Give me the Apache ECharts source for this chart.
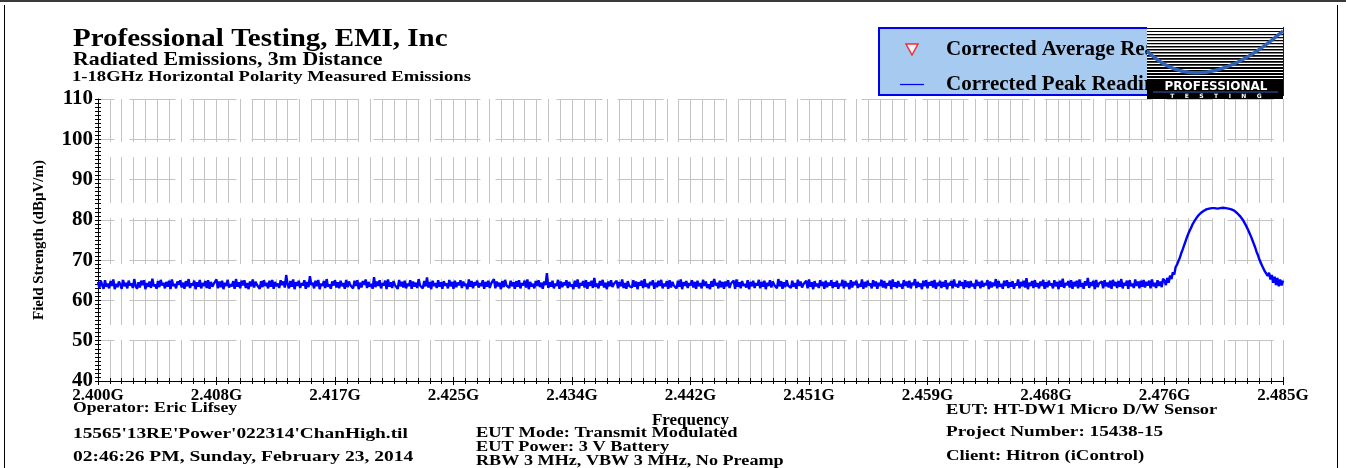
<!DOCTYPE html>
<html>
<head>
<meta charset="utf-8">
<title>Radiated Emissions 2.400-2.485 GHz</title>
<script src="https://cdn.jsdelivr.net/npm/echarts@6/dist/echarts.min.js"></script>
<style>
  html, body { margin: 0; padding: 0; background: #fff; }
  #main { width: 1346px; height: 468px; }
</style>
</head>
<body>
<div id="main"></div>
<script>
// x is MHz above 2.400 GHz, one reading every 0.1 MHz (0 .. 85), 25 readings per row
const sweepStepMHz = 0.1
const peakReading = [
  64.6,63.1,64.9,63.8,62.9,65.0,63.4,64.2,63.0,64.8,63.6,65.2,62.8,64.1,63.3,64.7,63.9,62.9,65.1,63.5,64.4,63.0,64.9,63.7,64.2,
  63.1,65.3,63.6,62.9,64.5,63.2,64.9,63.8,65.0,62.8,64.3,63.4,64.7,63.1,65.4,63.5,64.0,62.9,64.8,63.3,65.1,63.7,64.4,63.0,64.6,
  63.4,64.9,62.8,65.2,63.6,64.1,63.0,64.7,63.9,65.0,63.2,64.4,62.9,64.8,63.5,65.3,63.1,64.2,63.7,64.9,62.8,64.5,63.4,65.1,63.0,
  64.3,63.6,64.8,63.1,65.0,62.9,64.6,63.4,64.1,63.8,65.2,63.0,64.7,63.3,64.9,62.8,64.4,63.6,65.1,63.2,64.0,63.5,64.8,62.9,65.3,
  63.4,64.5,63.0,64.9,63.7,65.0,63.1,64.3,62.8,64.7,63.5,65.2,63.2,64.6,63.9,64.1,62.9,64.8,63.3,65.0,63.6,64.4,63.0,64.9,63.4,
  65.1,62.9,64.6,63.5,64.2,63.1,65.0,63.8,64.7,63.2,66.3,64.0,63.0,64.8,63.4,65.2,62.8,64.5,63.6,64.9,63.1,64.3,63.7,65.0,62.9,
  64.6,63.3,66.0,63.8,64.4,63.0,64.9,63.5,65.1,62.8,64.2,63.6,64.8,63.1,65.3,63.4,64.0,62.9,64.7,63.7,65.0,63.2,64.5,63.0,64.9,
  63.5,64.3,62.9,65.1,63.3,64.7,63.8,64.2,63.0,64.9,63.6,65.0,62.8,64.4,63.2,64.8,63.9,65.2,63.1,64.6,63.4,64.1,62.9,65.8,63.3,
  64.7,63.6,65.0,63.0,64.3,63.7,64.9,62.8,65.2,63.4,64.5,63.1,64.8,63.8,64.0,62.9,65.1,63.5,64.6,63.2,64.9,63.0,64.2,63.6,65.0,
  62.9,64.7,63.4,64.4,63.1,65.3,63.7,64.0,63.0,64.8,63.5,65.7,63.2,64.6,62.8,64.9,63.6,64.3,63.1,65.0,63.4,64.5,62.9,64.8,63.7,
  64.2,63.0,65.1,63.5,64.6,62.9,64.9,63.3,64.4,63.8,65.0,63.1,64.7,63.6,64.1,62.8,65.2,63.4,64.8,63.0,64.5,63.7,64.9,63.2,64.3,
  63.6,65.0,62.9,64.6,63.4,64.9,63.1,64.2,63.8,65.3,63.0,64.7,63.5,64.4,62.8,64.8,63.3,65.1,63.7,64.0,63.1,64.9,63.5,64.5,62.9,
  64.8,63.4,65.0,63.0,64.3,63.7,64.9,63.2,65.2,62.8,64.6,63.5,64.1,63.0,64.8,63.6,65.0,63.3,64.4,62.9,64.7,63.8,66.8,63.1,64.5,
  63.4,64.9,63.0,64.2,63.6,65.1,62.9,64.7,63.3,64.4,63.8,65.0,63.1,64.6,63.5,64.0,62.8,64.9,63.4,65.2,63.0,64.3,63.7,64.8,63.2,
  65.0,62.9,64.5,63.6,64.9,63.1,65.6,63.4,64.2,63.0,64.8,63.7,65.1,63.2,64.4,62.8,64.7,63.5,65.0,63.3,64.1,63.9,64.9,63.0,64.6,
  63.5,65.2,63.1,64.3,62.9,64.8,63.6,64.0,63.2,65.0,63.4,64.7,62.8,64.5,63.7,64.9,63.1,65.3,63.4,64.2,63.0,64.6,63.8,65.0,62.9,
  64.4,63.3,64.9,63.6,65.1,63.0,64.2,63.5,64.8,62.9,65.0,63.2,64.6,63.7,64.1,63.0,64.9,63.4,65.2,62.8,64.5,63.6,64.8,63.1,64.3,
  63.7,65.0,63.2,64.6,62.9,64.9,63.5,64.3,63.0,65.1,63.6,64.7,63.1,64.0,62.8,64.8,63.4,65.3,63.7,64.4,63.0,64.9,63.3,64.6,62.9,
  64.7,63.5,65.0,63.1,64.2,63.8,64.9,62.9,65.2,63.4,64.5,63.0,64.8,63.6,64.1,63.2,65.0,62.8,64.6,63.5,64.9,63.1,64.3,63.7,65.1,
  63.0,64.6,63.4,64.9,62.8,64.4,63.6,65.0,63.2,64.7,63.9,64.2,63.0,65.3,63.5,64.8,62.9,64.5,63.3,65.0,63.7,64.1,63.1,64.9,63.4,
  64.3,62.9,65.1,63.6,64.7,63.2,64.0,63.8,64.9,63.0,65.2,63.4,64.5,62.8,64.8,63.5,64.2,63.1,65.0,63.6,64.6,62.9,64.9,63.3,64.4,
  63.7,65.0,63.1,64.5,63.4,64.9,62.9,64.2,63.6,65.1,63.0,64.8,63.5,64.3,62.8,65.0,63.2,64.6,63.8,64.9,63.1,64.1,63.4,65.2,62.9,
  64.6,63.3,64.9,63.7,64.2,63.0,65.0,63.5,64.7,62.9,64.4,63.6,65.1,63.2,64.8,63.0,64.3,63.7,64.9,62.8,65.2,63.4,64.5,63.1,64.8,
  63.5,64.1,62.9,65.0,63.6,64.7,63.2,64.9,63.0,64.4,63.8,65.3,63.1,64.6,63.4,64.2,62.8,64.9,63.5,65.0,63.0,64.5,63.7,64.8,63.2,
  65.1,62.9,64.4,63.6,64.9,63.1,64.6,63.4,65.0,62.8,64.3,63.7,64.8,63.0,65.2,63.5,64.1,63.2,64.9,63.6,64.5,62.9,65.0,63.3,64.7,
  63.1,64.8,63.5,64.2,62.9,65.1,63.6,64.6,63.0,64.9,63.4,64.3,63.8,65.0,62.8,64.7,63.2,64.4,63.6,65.3,63.0,64.8,63.4,64.1,62.9,
  64.9,63.6,65.0,63.1,64.5,63.4,64.8,62.9,64.2,63.7,65.2,63.0,64.6,63.5,64.9,63.2,65.5,62.8,64.4,63.6,64.8,63.1,65.0,63.4,64.3,
  63.0,64.7,63.6,65.1,62.9,64.5,63.3,64.9,63.7,64.2,63.0,65.0,63.5,64.6,62.8,64.9,63.4,65.4,63.1,64.3,63.8,64.8,63.2,65.0,62.9,
  64.6,63.5,64.9,63.0,65.2,63.4,64.3,62.9,64.8,63.7,65.6,63.1,64.5,63.6,64.9,62.8,65.1,63.3,64.2,63.8,64.7,63.0,65.0,63.5,64.4,
  63.2,64.9,62.9,65.1,63.6,64.6,63.1,64.8,63.4,65.3,63.0,64.4,63.7,64.9,62.9,65.0,63.5,64.2,63.1,65.2,63.6,64.7,63.0,64.9,63.4,
  65.1,63.2,64.6,63.7,64.9,63.0,65.2,63.5,64.4,63.1,65.0,63.6,64.7,63.3,65.4,
  // channel edge and carrier (76.5 .. 85.0)
  64.9,63.8,65.6,64.4,66.2,65.3,67.0,66.4,68.3,68.9,69.8,70.6,71.7,72.6,73.6,74.6,75.6,76.5,77.3,78.0,
  78.8,79.4,80.0,80.5,81.0,81.4,81.7,82.0,82.2,82.4,82.6,82.7,82.8,82.9,82.9,83.0,82.9,82.8,82.8,82.9,
  82.9,83.0,83.0,83.0,82.9,82.9,82.8,82.7,82.6,82.5,82.3,82.0,81.7,81.4,81.0,80.6,80.1,79.5,78.9,78.2,
  77.5,76.7,75.9,75.0,74.1,73.2,72.1,71.3,70.2,69.8,68.6,68.4,67.2,67.6,66.1,66.9,65.2,66.3,64.4,65.9,
  63.8,65.6,63.5,65.2,63.7,64.9
]
const averageReading = []
const xTickLabels = ['2.400G','2.408G','2.417G','2.425G','2.434G','2.442G','2.451G','2.459G','2.468G','2.476G','2.485G']
const yMin = 40
const yMax = 110
const yStep = 10

const serif = '"Liberation Serif", "Times New Roman", serif'
const gridColor = '#c4c4c4'

const chart = echarts.init(document.getElementById('main'))

// the original report prints its text stretched, so widen it a little
function txt(x, y, s, size, stretch) {
  return {
    type: 'text', z: 50, x: x, y: y, scaleX: stretch || 1,
    style: {
      text: s, x: 0, y: 0,
      font: 'bold ' + size + 'px ' + serif,
      fill: '#000',
      align: 'left', textAlign: 'left',
      verticalAlign: 'middle', textVerticalAlign: 'middle'
    }
  }
}

// company logo in the corner of the legend box
function logo() {
  const els = [
    { type: 'rect', z: 100, shape: { x: 1147, y: 27, width: 136, height: 72 }, style: { fill: '#fff' } }
  ]
  for (let i = 0; i < 18; i++) {
    els.push({ type: 'rect', z: 101, shape: { x: 1147, y: 28 + i * 3, width: 136, height: 1 + i * 0.07 }, style: { fill: '#000' } })
  }
  els.push(
    { type: 'bezierCurve', z: 102, shape: { x1: 1147, y1: 51, cpx1: 1200, cpy1: 103, x2: 1283, y2: 31 }, style: { stroke: '#2f62b5', lineWidth: 3.5, fill: null } },
    { type: 'rect', z: 103, shape: { x: 1147, y: 80, width: 136, height: 19 }, style: { fill: '#000' } },
    { type: 'text', z: 104, style: { text: 'PROFESSIONAL', x: 1216, y: 87, font: 'bold 12px "DejaVu Sans"', fill: '#fff', align: 'center', textAlign: 'center', verticalAlign: 'middle', textVerticalAlign: 'middle' } },
    { type: 'line', z: 104, shape: { x1: 1153, y1: 92, x2: 1278, y2: 92 }, style: { stroke: '#2f62b5', lineWidth: 1 } },
    { type: 'text', z: 104, style: { text: 'T     E     S     T     I     N     G', x: 1216, y: 96, font: 'bold 6px "DejaVu Sans"', fill: '#fff', align: 'center', textAlign: 'center', verticalAlign: 'middle', textVerticalAlign: 'middle' } }
  )
  return els
}

const peakData = peakReading.map((v, i) => [i * sweepStepMHz, v])

const option = {
  animation: false,
  backgroundColor: '#fff',
  grid: { left: 98, right: 63, top: 99, bottom: 87 },
  legend: {
    orient: 'vertical',
    left: 900, top: 39,
    padding: 0,
    itemWidth: 24, itemHeight: 11, itemGap: 14,
    data: [
      { name: 'Corrected Average Reading', icon: 'path://M0,0L12,0L6,11Z',
        itemStyle: { color: '#fff', borderColor: '#ff0000', borderWidth: 1.5 } },
      { name: 'Corrected Peak Reading', icon: 'path://M0,0L24,0L24,1.2L0,1.2Z',
        itemStyle: { color: '#0000ff' } }
    ],
    textStyle: { fontFamily: serif, fontWeight: 'bold', fontSize: 21, lineHeight: 20, color: '#000', padding: [0, 0, 0, 17] }
  },
  xAxis: [
    {
      type: 'value', min: 0, max: 85, interval: 8.5,
      name: 'Frequency', nameLocation: 'middle', nameGap: 31,
      nameTextStyle: { fontFamily: serif, fontWeight: 'bold', fontSize: 17, color: '#000' },
      axisLine: { show: true, onZero: false, lineStyle: { color: '#000', width: 1 } },
      axisTick: { show: true, length: 4, lineStyle: { color: '#000' } },
      minorTick: { show: true, splitNumber: 10, length: 3, lineStyle: { color: '#000' } },
      axisLabel: {
        margin: 6, color: '#000', fontFamily: serif, fontWeight: 'bold', fontSize: 17,
        formatter: v => xTickLabels[Math.round(v / 8.5)]
      },
      splitLine: { show: true, lineStyle: { color: gridColor, width: 1, type: [46, 15], dashOffset: 3 } },
      minorSplitLine: { show: true, lineStyle: { color: gridColor, width: 1, type: [46, 15], dashOffset: 3 } }
    },
    {
      // second copy only for the inward half of the ticks
      type: 'value', min: 0, max: 85, interval: 8.5, position: 'bottom',
      axisLine: { show: false, onZero: false },
      axisTick: { show: true, inside: true, length: 4, lineStyle: { color: '#000' } },
      minorTick: { show: true, splitNumber: 10, length: 3, lineStyle: { color: '#000' } },
      axisLabel: { show: false },
      splitLine: { show: false }
    }
  ],
  yAxis: [
    {
      type: 'value', min: yMin, max: yMax, interval: yStep,
      name: 'Field Strength (dBµV/m)', nameLocation: 'middle', nameGap: 51,
      nameTextStyle: { fontFamily: serif, fontWeight: 'bold', fontSize: 15, color: '#000' },
      axisLine: { show: true, onZero: false, lineStyle: { color: '#000', width: 1 } },
      axisTick: { show: true, length: 3, lineStyle: { color: '#000' } },
      minorTick: { show: true, splitNumber: 10, length: 3, lineStyle: { color: '#000' } },
      axisLabel: { margin: 5, color: '#000', fontFamily: serif, fontWeight: 'bold', fontSize: 21 },
      splitLine: { show: true, lineStyle: { color: gridColor, width: 1, type: [46, 15], dashOffset: 29.5 } }
    },
    {
      type: 'value', min: yMin, max: yMax, interval: yStep, position: 'left',
      axisLine: { show: false, onZero: false },
      axisTick: { show: true, inside: true, length: 3, lineStyle: { color: '#000' } },
      minorTick: { show: true, splitNumber: 10, length: 3, lineStyle: { color: '#000' } },
      axisLabel: { show: false },
      splitLine: { show: false }
    }
  ],
  series: [
    {
      name: 'Corrected Average Reading', type: 'scatter',
      symbol: 'path://M0,0L12,0L6,11Z', symbolSize: [12, 11],
      itemStyle: { color: '#fff', borderColor: '#ff0000', borderWidth: 1.5 },
      data: averageReading
    },
    {
      name: 'Corrected Peak Reading', type: 'line',
      symbol: 'none', sampling: null,
      lineStyle: { color: '#0000ff', width: 2.4 },
      itemStyle: { color: '#0000ff' },
      data: peakData
    }
  ],
  graphic: [
    // outer frame
    { type: 'rect', z: 0, shape: { x: 0, y: 0, width: 1346, height: 2 }, style: { fill: '#3a3a3a' } },
    { type: 'line', z: 0, shape: { x1: 4.5, y1: 5, x2: 4.5, y2: 468 }, style: { stroke: '#000', lineWidth: 1 } },
    { type: 'line', z: 0, shape: { x1: 1337.5, y1: 5, x2: 1337.5, y2: 468 }, style: { stroke: '#000', lineWidth: 1 } },
    // legend box
    { type: 'rect', z: 1, shape: { x: 879, y: 28, width: 404, height: 67 }, style: { fill: '#a6caf0', stroke: '#0000ee', lineWidth: 2 } },
    txt(73, 40, 'Professional Testing, EMI, Inc', 25, 1.16),
    txt(73, 60, 'Radiated Emissions, 3m Distance', 19, 1.15),
    txt(72, 77, '1-18GHz Horizontal Polarity Measured Emissions', 14, 1.33),
    txt(73, 408, 'Operator: Eric Lifsey', 15, 1.18),
    txt(73, 434, "15565'13RE'Power'022314'ChanHigh.til", 15, 1.29),
    txt(73, 457, '02:46:26 PM, Sunday, February 23, 2014', 15, 1.3),
    txt(476, 433, 'EUT Mode: Transmit Modulated', 15, 1.23),
    txt(476, 447, 'EUT Power: 3 V Battery', 15, 1.22),
    txt(476, 461, 'RBW 3 MHz, VBW 3 MHz, No Preamp', 15, 1.21),
    txt(946, 410, 'EUT: HT-DW1 Micro D/W Sensor', 15, 1.23),
    txt(946, 432, 'Project Number: 15438-15', 15, 1.28),
    txt(946, 456, 'Client: Hitron (iControl)', 15, 1.25)
  ].concat(logo())
}

chart.setOption(option)
window.addEventListener('resize', () => chart.resize())
</script>
</body>
</html>
